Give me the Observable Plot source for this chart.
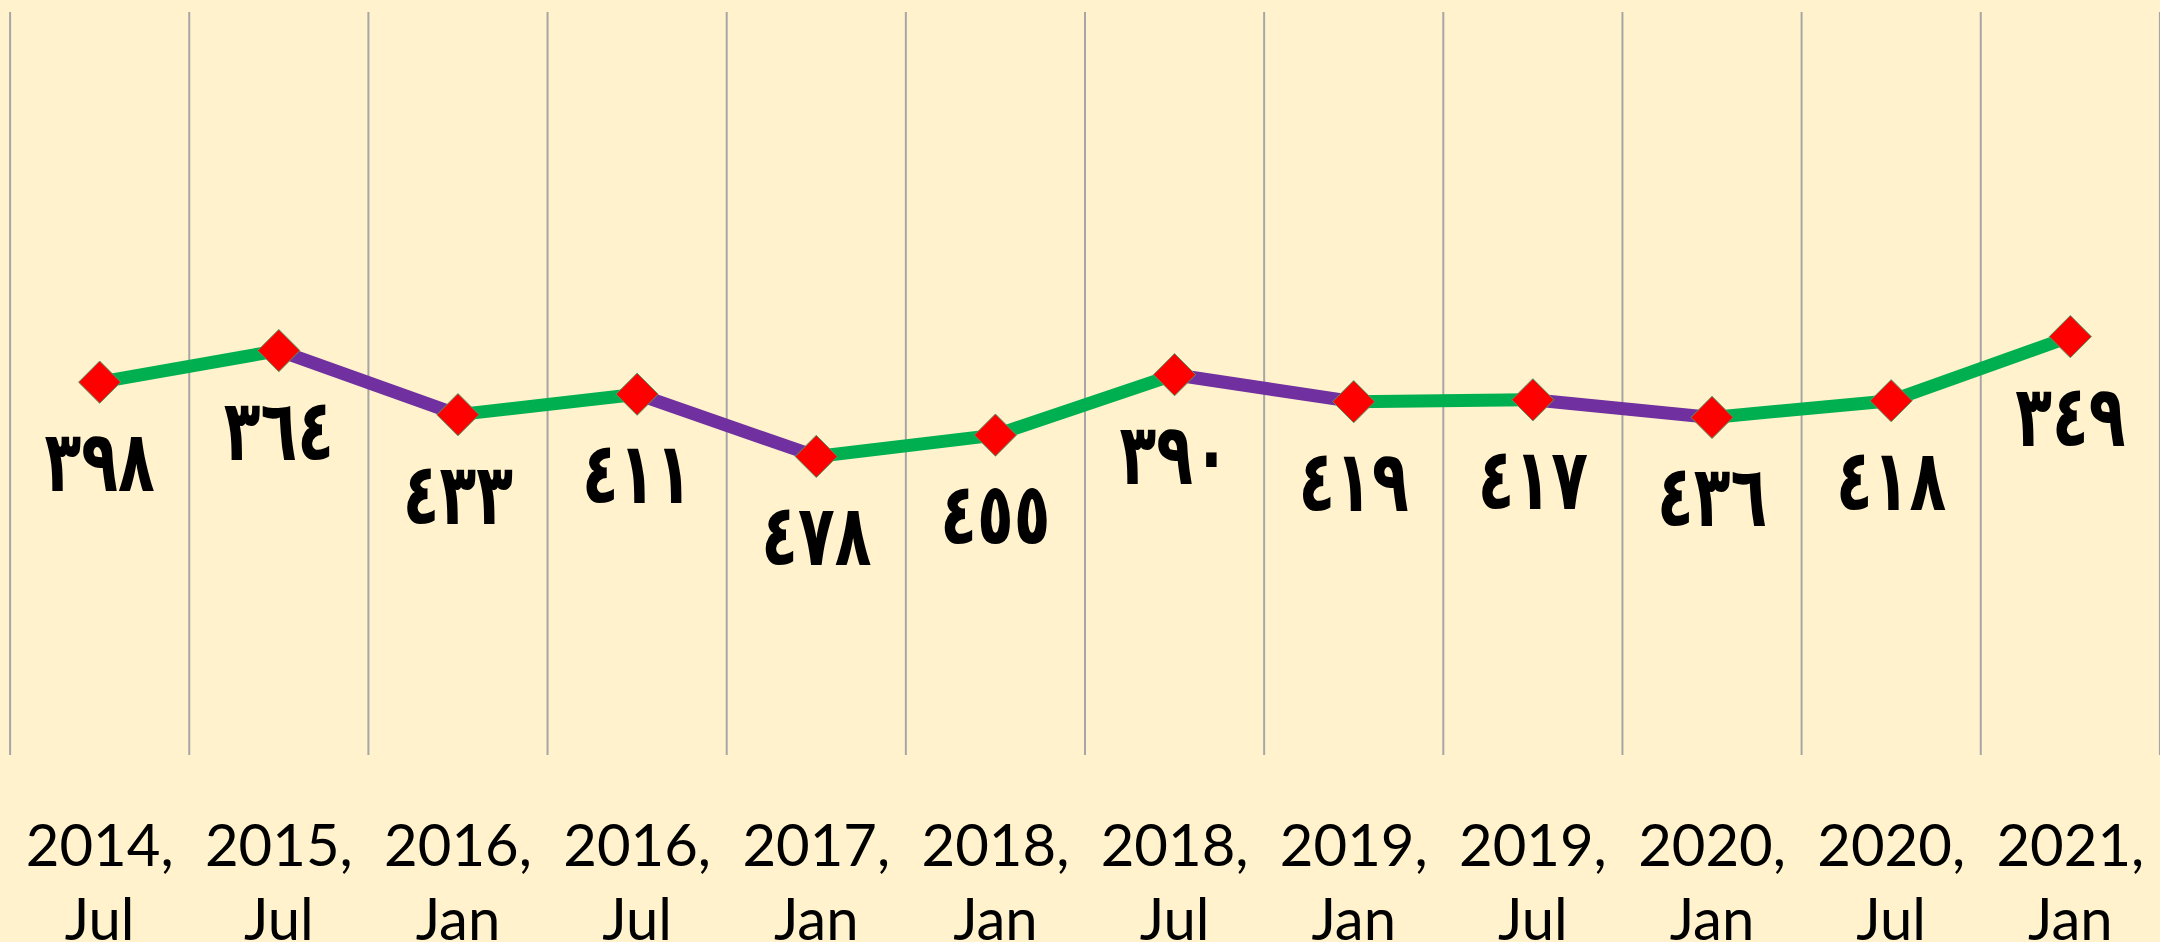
<!DOCTYPE html>
<html>
<head>
<meta charset="utf-8">
<script src="https://cdn.jsdelivr.net/npm/d3@7"></script>
<script src="https://cdn.jsdelivr.net/npm/@observablehq/plot@0.6"></script>
<style>
  html, body { margin: 0; padding: 0; background: #FFF2CC; }
  #chart svg { display: block; }
</style>
</head>
<body>
<div id="chart"></div>
<script>
const years = ["2014", "2015", "2016", "2016", "2017", "2018", "2018", "2019", "2019", "2020", "2020", "2021"];
const months = ["Jul", "Jul", "Jan", "Jul", "Jan", "Jan", "Jul", "Jan", "Jul", "Jan", "Jul", "Jan"];
const values = [398, 364, 433, 411, 478, 455, 390, 419, 417, 436, 418, 349];

const arabicDigits = "٠١٢٣٤٥٦٧٨٩";
const toArabic = v => String(v).replace(/\d/g, d => arabicDigits[+d]);

const points = values.map((v, i) => ({i: i + 0.5, v, label: toArabic(v)}));
const segments = values.slice(1).map((v, k) => ({
  x1: k + 0.5, y1: values[k], x2: k + 1.5, y2: v,
  color: v < values[k] ? "#00B050" : "#7030A0"
}));
const bounds = d3.range(values.length + 1);

const chart = Plot.plot({
  width: 2160,
  height: 942,
  marginLeft: 9.6,
  marginRight: 0.6,
  marginTop: 12,
  marginBottom: 187,
  style: {background: "#FFF2CC", overflow: "visible"},
  x: {type: "linear", domain: [0, values.length], axis: null},
  y: {domain: [0, 800], reverse: true, axis: null},
  marks: [
    Plot.ruleX(bounds, {x: d => d, y1: 0, y2: 800, stroke: "#A6A6A6", strokeWidth: 2}),
    Plot.link(segments, {x1: "x1", y1: "y1", x2: "x2", y2: "y2", stroke: "color", strokeWidth: 13, strokeLinecap: "butt"}),
    Plot.dot(points, {x: "i", y: "v", symbol: "diamond2", r: 19, fill: "#FF0000", stroke: "#4F9A6A", strokeWidth: 1}),
    Plot.text(points, {x: "i", y: "v", text: "label", dy: 109, fontSize: 70, fontWeight: "bold", fill: "#000", fontFamily: "'Times New Roman', 'DejaVu Sans', serif"}),
    Plot.axisX(points.map(d => d.i), {
      tickFormat: (d) => { const k = Math.floor(d); return years[k] + ",\n" + months[k]; },
      tickSize: 0, tickPadding: 58, fontSize: 58, lineHeight: 1.28,
      fill: "#000", fontFamily: "Lato, 'Open Sans', sans-serif", label: null
    })
  ]
});
document.getElementById("chart").appendChild(chart);

// Narrow, tall glyph shape for the Arabic-Indic value labels
d3.select(chart).selectAll('g[aria-label="text"] text').each(function () {
  const x = +this.getAttribute("x") || 0, y = +this.getAttribute("y") || 0;
  const tr = this.getAttribute("transform") || "";
  this.removeAttribute("x"); this.removeAttribute("y");
  this.setAttribute("transform", `${tr} translate(${x},${y}) scale(0.86,1.22)`);
});
</script>
</body>
</html>
